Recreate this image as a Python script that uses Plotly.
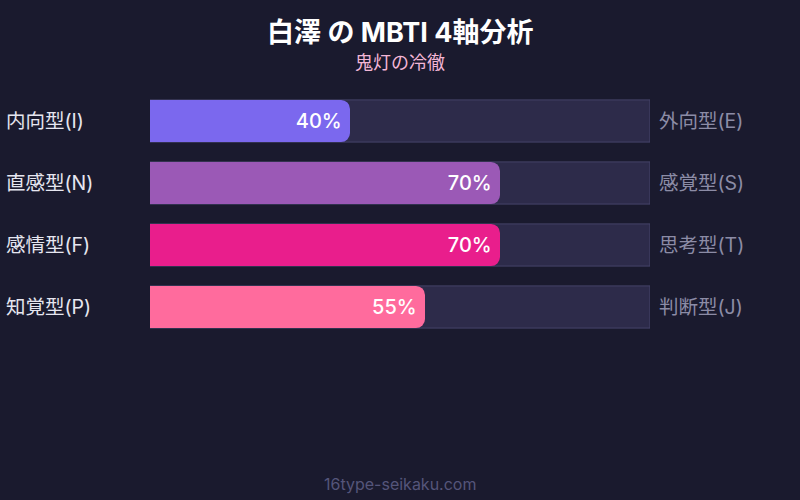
import plotly.graph_objects as go

# Data
axes_left = ["内向型(I)", "直感型(N)", "感情型(F)", "知覚型(P)"]
axes_right = ["外向型(E)", "感覚型(S)", "思考型(T)", "判断型(J)"]
scores = [40, 70, 70, 55]
bar_colors = ["#7b68ee", "#9b59b6", "#e91e8c", "#ff6b9d"]
track_max = [100, 100, 100, 100]

FONT = "Inter, 'Noto Sans CJK JP', sans-serif"
BG = "#1a1a2e"

fig = go.Figure()

# Background track (square corners)
fig.add_trace(go.Bar(
    y=axes_left, x=track_max, orientation="h", width=0.68,
    marker=dict(color="#2d2b4a", line=dict(color="#46446a", width=1)),
    hoverinfo="skip", showlegend=False,
))

# Score bars (rounded), on an overlaid axis so the rounding applies
fig.add_trace(go.Bar(
    y=axes_left, x=scores, orientation="h", width=0.68, yaxis="y2",
    marker=dict(color=bar_colors, line=dict(width=0), cornerradius=9),
    text=[f"{s}%\u00a0" for s in scores],
    textposition="inside", insidetextanchor="end",
    textfont=dict(family=FONT, size=20, color="white", weight=500),
    showlegend=False,
))

# Side labels
for left, right in zip(axes_left, axes_right):
    fig.add_annotation(x=-0.292, y=left, xref="paper", yref="y", text=left,
                       showarrow=False, xanchor="left",
                       font=dict(family=FONT, size=19.5, color="#e6e6f0"))
    fig.add_annotation(x=1.013, y=left, xref="paper", yref="y", text=right,
                       showarrow=False, xanchor="left",
                       font=dict(family=FONT, size=19.5, color="#8c8ca6"))

# Title, subtitle, footer
fig.add_annotation(x=0.5, y=1.23, xref="paper", yref="paper", text="<b>白澤 の MBTI 4軸分析</b>",
                   showarrow=False, yanchor="middle",
                   font=dict(family=FONT, size=27, color="white"))
fig.add_annotation(x=0.5, y=1.109, xref="paper", yref="paper", text="鬼灯の冷徹",
                   showarrow=False, yanchor="middle",
                   font=dict(family=FONT, size=18, color="#f3b6d6"))
fig.add_annotation(x=0.5, y=-0.589, xref="paper", yref="paper", text="16type-seikaku.com",
                   showarrow=False, yanchor="middle",
                   font=dict(family=FONT, size=16, color="#55557a"))

fig.update_layout(
    width=800, height=500,
    paper_bgcolor=BG, plot_bgcolor=BG,
    margin=dict(l=150, r=150, t=90, b=162),
    xaxis=dict(range=[0, 100], visible=False, fixedrange=True),
    yaxis=dict(autorange="reversed", visible=False, fixedrange=True),
    yaxis2=dict(autorange="reversed", visible=False, fixedrange=True,
                overlaying="y", matches="y"),
    font=dict(family=FONT),
)

fig.write_html("out.html", config={"displayModeBar": False},
               post_script="document.body.style.margin='0';document.body.style.background='#1a1a2e';")
